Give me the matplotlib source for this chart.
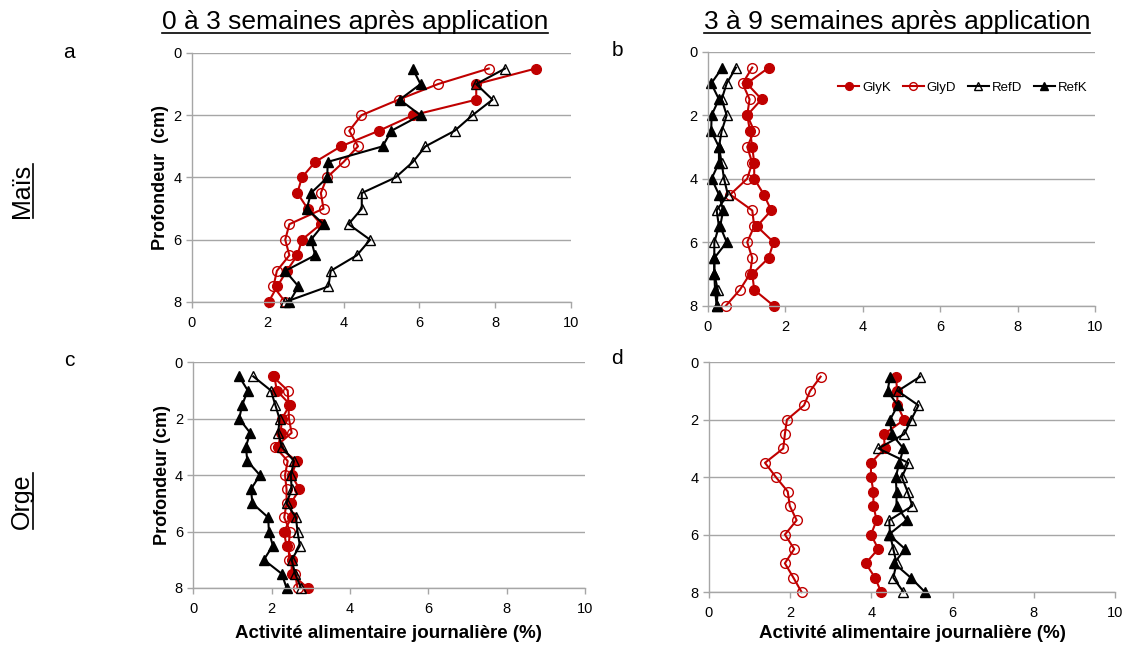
import matplotlib
matplotlib.use("Agg")
import matplotlib.pyplot as plt
from matplotlib.lines import Line2D

plt.rcParams['font.family'] = ['Liberation Sans', 'DejaVu Sans']

# depths (cm)
depth = [0.5, 1.0, 1.5, 2.0, 2.5, 3.0, 3.5, 4.0, 4.5, 5.0, 5.5, 6.0, 6.5, 7.0, 7.5, 8.0]

# a : Maïs, 0-3 semaines
a_glyk = [9.07, 7.50, 7.50, 5.83, 4.93, 3.93, 3.25, 2.90, 2.78, 3.05, 3.40, 2.90, 2.78, 2.50, 2.25, 2.02]
a_glyd = [7.83, 6.49, 5.45, 4.47, 4.15, 4.38, 4.00, 3.56, 3.40, 3.47, 2.57, 2.46, 2.57, 2.24, 2.15, 2.46]
a_refd = [8.26, 7.50, 7.93, 7.40, 6.93, 6.16, 5.83, 5.37, 4.48, 4.48, 4.13, 4.70, 4.35, 3.66, 3.60, 2.46]
a_refk = [5.82, 6.03, 5.48, 6.03, 5.26, 5.03, 3.58, 3.57, 3.14, 3.03, 3.47, 3.14, 3.25, 2.46, 2.81, 2.57]

# b : Maïs, 3-9 semaines
b_glyk = [1.58, 1.01, 1.39, 1.02, 1.09, 1.15, 1.20, 1.20, 1.45, 1.64, 1.27, 1.70, 1.57, 1.15, 1.20, 1.70]
b_glyd = [1.15, 0.90, 1.08, 1.02, 1.20, 1.02, 1.15, 1.02, 0.58, 1.15, 1.20, 1.02, 1.15, 1.09, 0.83, 0.47]
b_refd = [0.73, 0.49, 0.36, 0.49, 0.36, 0.29, 0.36, 0.42, 0.52, 0.23, 0.29, 0.17, 0.17, 0.17, 0.26, 0.23]
b_refk = [0.38, 0.09, 0.29, 0.10, 0.09, 0.29, 0.29, 0.10, 0.29, 0.40, 0.32, 0.49, 0.17, 0.17, 0.19, 0.23]

# c : Orge, 0-3 semaines
c_glyk = [2.07, 2.13, 2.47, 2.26, 2.23, 2.17, 2.64, 2.51, 2.71, 2.49, 2.51, 2.31, 2.38, 2.51, 2.51, 2.92]
c_glyd = [2.03, 2.41, 2.43, 2.44, 2.51, 2.09, 2.41, 2.34, 2.38, 2.38, 2.32, 2.47, 2.43, 2.45, 2.60, 2.66]
c_refd = [1.53, 1.98, 2.09, 2.20, 2.17, 2.26, 2.57, 2.49, 2.51, 2.38, 2.62, 2.66, 2.72, 2.51, 2.60, 2.75]
c_refk = [1.17, 1.39, 1.25, 1.17, 1.45, 1.34, 1.38, 1.70, 1.47, 1.51, 1.91, 1.93, 2.03, 1.80, 2.26, 2.38]

# d : Orge, 3-9 semaines
d_glyk = [4.60, 4.64, 4.64, 4.81, 4.31, 4.33, 3.99, 3.99, 4.05, 4.05, 4.13, 3.99, 4.17, 3.86, 4.09, 4.24]
d_glyd = [2.75, 2.49, 2.34, 1.92, 1.87, 1.83, 1.38, 1.65, 1.94, 1.99, 2.16, 1.87, 2.10, 1.87, 2.08, 2.28]
d_refd = [5.20, 4.65, 5.16, 4.98, 4.81, 4.17, 4.91, 4.75, 4.89, 5.01, 4.44, 4.46, 4.54, 4.62, 4.54, 4.79]
d_refk = [4.46, 4.40, 4.65, 4.46, 4.50, 4.79, 4.69, 4.60, 4.62, 4.62, 4.87, 4.43, 4.83, 4.56, 4.97, 5.32]

series_names = ["GlyK", "GlyD", "RefD", "RefK"]
xticks = [0, 2, 4, 6, 8, 10]
yticks = [0, 2, 4, 6, 8]

RED = "#C00000"
GRID = "#A6A6A6"
styles = [
    dict(color=RED, marker="o", mfc=RED, mec=RED),
    dict(color=RED, marker="o", mfc="none", mec=RED),
    dict(color="black", marker="^", mfc="none", mec="black"),
    dict(color="black", marker="^", mfc="black", mec="black"),
]

fig = plt.figure(figsize=(11.3, 6.5), dpi=100)

# axes rectangles (figure fractions)
rects = {
    "a": [0.1699, 0.5354, 0.3354, 0.3831],
    "b": [0.6263, 0.5297, 0.3428, 0.3908],
    "c": [0.1711, 0.0954, 0.3466, 0.3472],
    "d": [0.6274, 0.0892, 0.3593, 0.3534],
}
panels = {
    "a": [a_glyk, a_glyd, a_refd, a_refk],
    "b": [b_glyk, b_glyd, b_refd, b_refk],
    "c": [c_glyk, c_glyd, c_refd, c_refk],
    "d": [d_glyk, d_glyd, d_refd, d_refk],
}

axes = {}
for key, rect in rects.items():
    ax = fig.add_axes(rect)
    for name, vals, st in zip(series_names, panels[key], styles):
        ax.plot(vals, depth, color=st["color"], marker=st["marker"],
                markerfacecolor=st["mfc"], markeredgecolor=st["mec"],
                markersize=7, markeredgewidth=1.0, linewidth=1.5,
                label=name, clip_on=False)
    ax.set_xlim(0, 10)
    ax.set_ylim(8, 0)
    ax.set_xticks(xticks)
    ax.set_yticks(yticks)
    ax.yaxis.grid(True, color=GRID, linewidth=1.0)
    ax.set_axisbelow(True)
    for s in ["top", "right"]:
        ax.spines[s].set_visible(False)
    for s in ["left", "bottom"]:
        ax.spines[s].set_color(GRID)
        ax.spines[s].set_linewidth(1.0)
    ax.tick_params(axis="both", colors=GRID, labelcolor="black",
                   labelsize=10.5, length=4, width=1.0)
    ax.tick_params(axis="x", pad=6)
    axes[key] = ax

axes["a"].set_ylabel("Profondeur  (cm)", fontsize=13, fontweight="bold", labelpad=3)
axes["c"].set_ylabel("Profondeur (cm)", fontsize=13, fontweight="bold", labelpad=3)

axes["b"].legend(loc="upper right", ncol=4, frameon=False, fontsize=9.5,
                 handlelength=1.6, handletextpad=0.2, columnspacing=0.9,
                 bbox_to_anchor=(1.01, 0.93), markerscale=0.8)

W, H = 1130, 650

def fx(px):
    return px / W

def fy(py):
    return 1 - py / H

fig.text(fx(388), fy(634), "Activité alimentaire journalière (%)",
         fontsize=13.5, fontweight="bold", ha="center", va="center")
fig.text(fx(912), fy(634), "Activité alimentaire journalière (%)",
         fontsize=13.5, fontweight="bold", ha="center", va="center")

for lab, x, y in [("a", 69, 52), ("b", 617, 51), ("c", 69, 360), ("d", 617, 359)]:
    fig.text(fx(x), fy(y), lab, fontsize=15, ha="center", va="center")

titles = [
    fig.text(fx(355), fy(22), "0 à 3 semaines après application", fontsize=19,
             ha="center", va="center"),
    fig.text(fx(897), fy(22), "3 à 9 semaines après application", fontsize=19,
             ha="center", va="center"),
]
rows = [
    fig.text(fx(22), fy(191), "Maïs", fontsize=18, rotation=90,
             ha="center", va="center"),
    fig.text(fx(22), fy(501), "Orge", fontsize=18, rotation=90,
             ha="center", va="center"),
]

# underline the headings
fig.canvas.draw()
renderer = fig.canvas.get_renderer()
for t in titles:
    bb = t.get_window_extent(renderer)
    yline = bb.y0 + 1
    fig.add_artist(Line2D([bb.x0 / W, bb.x1 / W], [yline / H, yline / H],
                          color="black", linewidth=1.2))
for t in rows:
    bb = t.get_window_extent(renderer)
    xline = bb.x1 - 1
    fig.add_artist(Line2D([xline / W, xline / W], [bb.y0 / H, bb.y1 / H],
                          color="black", linewidth=1.2))

fig.savefig("out.png", dpi=100)
